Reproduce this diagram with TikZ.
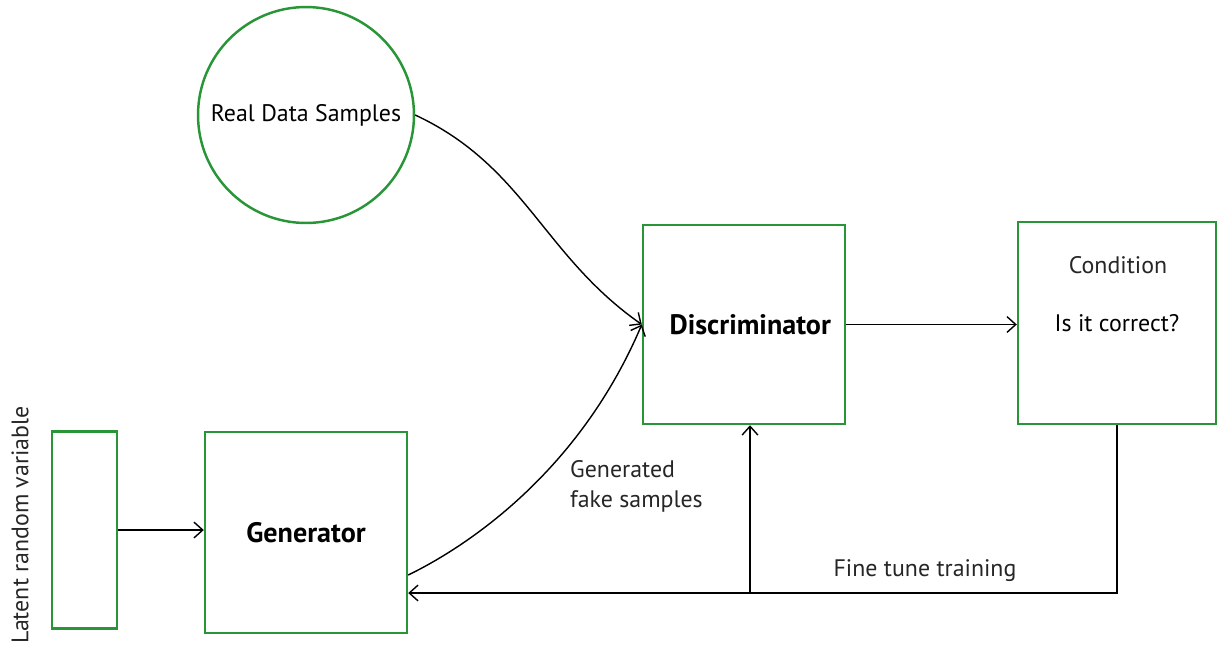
\documentclass[tikz,border=0pt]{standalone}
\usepackage{fontspec}
\setmainfont{PT Sans}
\usetikzlibrary{arrows.meta,positioning}
\definecolor{boxgreen}{RGB}{40,150,55}
\begin{document}
\begin{tikzpicture}[x=0.02cm,y=-0.02cm,
  box/.style={draw=boxgreen,line width=1.4pt,inner sep=0pt,font=\fontsize{16}{18}\selectfont},
  flow/.style={-{Straight Barb[length=5pt,width=9pt]},line width=0.8pt},
  lbl/.style={font=\fontsize{13.6}{17}\selectfont,text=black!85}]
\useasboundingbox (0,0) rectangle (1226,647);
% boxes
\node[box,minimum width=1.3cm,minimum height=3.94cm] (latent) at (84.5,530) {};
\node[box,minimum width=4.04cm,minimum height=4.02cm] (gen) at (306,532.5) {\bfseries Generator};
\node[box,circle,minimum size=4.32cm,font=\fontsize{13.6}{15}\selectfont] (real) at (306,115) {Real Data Samples};
\node[box,minimum width=4.04cm,minimum height=3.98cm] (disc) at (744,324.5) {\bfseries\hspace*{0.25cm}Discriminator};
\node[box,minimum width=3.96cm,minimum height=4.04cm,font=\fontsize{13.6}{15}\selectfont] (cond) at (1117,323) {Is it correct?};
% texts
\node[lbl,rotate=90] (latenttxt) at (20,525) {Latent random variable};
\node[lbl] (condtxt) at (1118,265) {Condition};
\node[lbl,align=left,anchor=north west] (faketxt) at (564,454) {Generated\\fake samples};
\node[lbl] (finetxt) at (925,571) {Fine tune training};
% connectors
\coordinate (genin) at ([yshift=-0.85cm]gen.east);
\coordinate (genout) at ([yshift=-1.21cm]gen.east);
\coordinate (branch) at (750,593);
\draw[flow] (latent.east) -- (latent.east -| gen.west);
\draw[flow] (real.east) to[out=-25,in=145] (disc.west);
\draw[flow] (genin) .. controls (470,545) and (580,470) .. (disc.west);
\draw[flow] (disc.east) -- (disc.east -| cond.west);
\draw[flow] (cond.south) |- (genout);
\draw[flow] (branch) -- (branch |- disc.south);
\end{tikzpicture}
\end{document}
